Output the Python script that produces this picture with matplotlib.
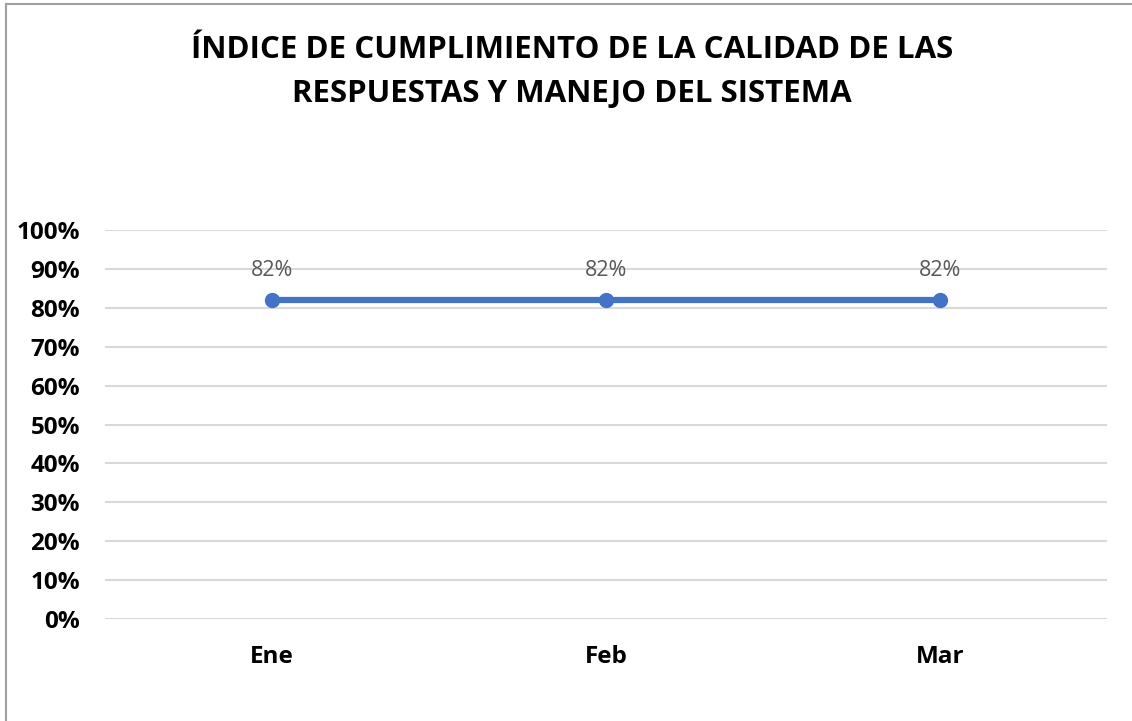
import matplotlib.pyplot as plt
from matplotlib.lines import Line2D
from matplotlib.ticker import PercentFormatter

meses = ["Ene", "Feb", "Mar"]
cumplimiento = [0.82, 0.82, 0.82]
ticks_y = [0, 0.1, 0.2, 0.3, 0.4, 0.5, 0.6, 0.7, 0.8, 0.9, 1.0]

titulo = "ÍNDICE DE CUMPLIMIENTO DE LA CALIDAD DE LAS\nRESPUESTAS Y MANEJO DEL SISTEMA"

plt.rcParams["font.family"] = ["Open Sans", "DejaVu Sans"]

fig = plt.figure(figsize=(11.32, 7.21), dpi=100)
ax = fig.add_axes([105 / 1132, 1 - 619 / 721, 1002 / 1132, 389 / 721])

x = list(range(len(meses)))
ax.plot(x, cumplimiento, color="#4472C4", linewidth=4.5, marker="o", markersize=10, zorder=3)

for xi, v in zip(x, cumplimiento):
    ax.annotate(f"{v:.0%}", (xi, v), xytext=(0, 21), textcoords="offset points",
                ha="center", va="center", fontsize=15.5, color="#595959")

ax.set_xlim(-0.5, 2.5)
ax.set_ylim(0, 1)
ax.set_xticks(x)
ax.set_xticklabels(meses)
ax.set_yticks(ticks_y)
ax.yaxis.set_major_formatter(PercentFormatter(1.0, decimals=0))
ax.grid(axis="y", color="#D9D9D9", linewidth=1.5)
ax.set_axisbelow(True)
for s in ax.spines.values():
    s.set_visible(False)
ax.tick_params(length=0, labelsize=17.5)
ax.tick_params(axis="x", pad=19)
ax.tick_params(axis="y", pad=18)
for lbl in ax.get_xticklabels() + ax.get_yticklabels():
    lbl.set_fontweight("bold")
    lbl.set_color("black")

fig.text(572 / 1132, 1 - 72 / 721, titulo, ha="center", va="center", fontsize=22.5,
         fontweight="bold", color="black", linespacing=1.6)

# marco gris del gráfico
fig.add_artist(Line2D([5.5 / 1132, 5.5 / 1132], [0, 1 - 3.5 / 721], transform=fig.transFigure,
                      color="#A0A0A0", linewidth=1.5))
fig.add_artist(Line2D([5.5 / 1132, 1], [1 - 3.5 / 721, 1 - 3.5 / 721], transform=fig.transFigure,
                      color="#A0A0A0", linewidth=1.5))

fig.savefig("out.png", dpi=100, facecolor="white")
